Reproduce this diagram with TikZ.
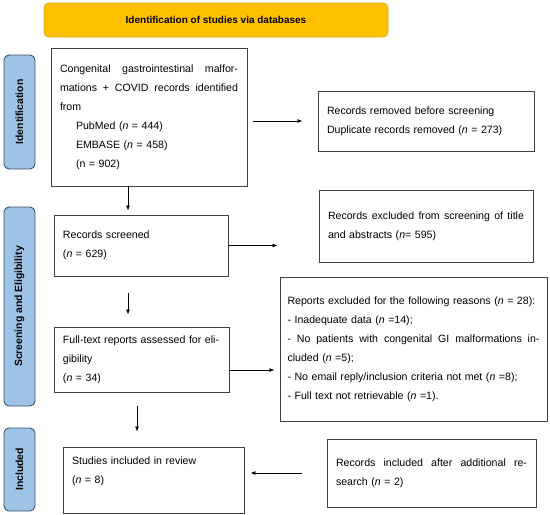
\documentclass[tikz,border=0pt]{standalone}
\usepackage{fontspec}
\setmainfont{Liberation Sans}
\usetikzlibrary{arrows.meta}
\definecolor{bannerfill}{HTML}{FFC000}
\definecolor{bannerdraw}{HTML}{E0A800}
\definecolor{sidefill}{HTML}{9DC3E6}
\definecolor{sidedraw}{HTML}{3F4F66}
\definecolor{boxdraw}{HTML}{404040}
\tikzset{
  stagebox/.style={draw=boxdraw, line width=0.9pt, fill=white, inner xsep=9pt, inner ysep=4pt,
    align=left, font=\fontsize{10.6}{19}\selectfont},
  sidelabel/.style={draw=sidedraw, line width=0.9pt, fill=sidefill, rounded corners=5pt,
    inner sep=0pt, font=\bfseries\fontsize{10.4}{12}\selectfont},
  arr/.style={-{Latex[length=5pt,width=4pt]}, line width=0.8pt, black},
}
\begin{document}
\begin{tikzpicture}[x=1pt,y=-1pt]
\useasboundingbox (0,0) rectangle (550,515);

% banner
\node[draw=bannerdraw, fill=bannerfill, line width=0.8pt, rounded corners=5pt,
  minimum width=344pt, minimum height=34pt, inner sep=0pt,
  font=\bfseries\fontsize{10}{12}\selectfont] (banner) at (216,20) {Identification of studies via databases};

% side labels
\node[sidelabel, minimum width=31pt, minimum height=114pt] (sideid) at (19.5,112) {};
\node[rotate=90, font=\bfseries\fontsize{10.4}{12}\selectfont] (sideidt) at (sideid.center) {Identification};
\node[sidelabel, minimum width=31pt, minimum height=199pt] (sidescr) at (19.5,306.5) {};
\node[rotate=90, font=\bfseries\fontsize{10.4}{12}\selectfont] (sidescrt) at (sidescr.center) {Screening and Eligibility};
\node[sidelabel, minimum width=31pt, minimum height=83pt] (sideinc) at (19.5,469.5) {};
\node[rotate=90, font=\bfseries\fontsize{10.4}{12}\selectfont] (sideinct) at (sideinc.center) {Included};

% boxes
\node[stagebox, minimum width=196pt, minimum height=138pt, text width=178pt] (b1) at (149,117)
 {Congenital\hfill gastrointestinal\hfill malfor-\\
  mations\hfill +\hfill COVID\hfill records\hfill identified\\
  from\\
  \hspace*{16pt}PubMed (\textit{n} = 444)\\
  \hspace*{16pt}EMBASE (\textit{n} = 458)\\
  \hspace*{16pt}(n = 902)};

\node[stagebox, minimum width=216pt, minimum height=60pt, text width=198pt] (rem) at (426,121)
 {Records removed before screening\\ Duplicate records removed (\textit{n} = 273)};

\node[stagebox, minimum width=174pt, minimum height=61pt, text width=156pt] (scr) at (141,245.5)
 {Records screened\\ (\textit{n} = 629)};

\node[stagebox, minimum width=214pt, minimum height=72pt, text width=196pt] (exc) at (426,226)
 {Records\hfill excluded\hfill from\hfill screening\hfill of\hfill title\\ and abstracts (\textit{n}= 595)};

\node[stagebox, minimum width=175pt, minimum height=65pt, text width=157pt] (ft) at (141.5,359.5)
 {Full-text reports assessed for eli-\\ gibility\\ (\textit{n} = 34)};

\node[stagebox, minimum width=267pt, minimum height=144pt, text width=252pt, inner xsep=7.5pt] (rea) at (413.5,349)
 {Reports excluded for the following reasons (\textit{n} = 28):\\
  - Inadequate data (\textit{n} =14);\\
  -\hfill No\hfill patients\hfill with\hfill congenital\hfill GI\hfill malformations\hfill in-\\
  cluded (\textit{n} =5);\\
  - No email reply/inclusion criteria not met (\textit{n} =8);\\
  - Full text not retrievable (\textit{n} =1).};

\node[stagebox, minimum width=181pt, minimum height=66pt, text width=163pt] (stu) at (153.5,480)
 {Studies included in review\\ (\textit{n} = 8)\\ \mbox{}};

\node[stagebox, minimum width=209pt, minimum height=68pt, text width=191pt] (inc) at (431.5,473)
 {Records\hfill included\hfill after\hfill additional\hfill re-\\ search (\textit{n} = 2)};

% connectors
\draw[arr, shorten >=4pt] ([xshift=-13pt]scr.north |- b1.south) -- ([xshift=-13pt]scr.north);
\draw[arr, shorten <=6pt, shorten >=15pt] (b1.east |- rem.west) -- (rem.west);
\draw[arr, shorten >=41pt] (scr.east) -- (scr.east -| exc.west);
\draw[arr, shorten <=17pt, shorten >=12pt] ([xshift=-13pt]scr.south) -- ([xshift=-13pt]scr.south |- ft.north);
\draw[arr, shorten >=5pt] ([yshift=-10.5pt]ft.east) -- ([yshift=-10.5pt]ft.east -| rea.west);
\draw[arr, shorten <=14pt, shorten >=15pt] ([xshift=-4.5pt]ft.south) -- ([xshift=-4.5pt]ft.south |- stu.north);
\draw[arr, shorten <=25pt, shorten >=6pt] (inc.west) -- (inc.west -| stu.east);
\end{tikzpicture}
\end{document}
